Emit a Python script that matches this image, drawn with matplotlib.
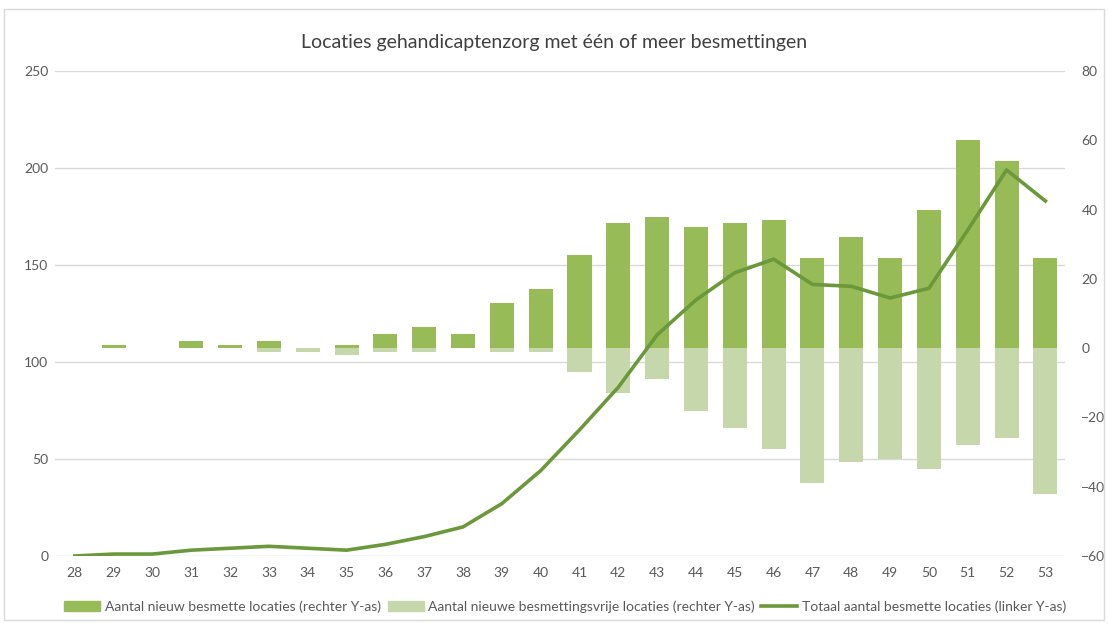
import numpy as np
import matplotlib.pyplot as plt
from matplotlib.patches import Rectangle, Patch
from matplotlib.lines import Line2D

plt.rcParams['font.family'] = ['Lato', 'DejaVu Sans']

weeks = list(range(28, 54))
# nieuw besmette locaties (rechter Y-as)
new_infected = [0, 1, 0, 2, 1, 2, 0, 1, 4, 6, 4, 13, 17, 27, 36, 38,
                35, 36, 37, 26, 32, 26, 40, 60, 54, 26]
# nieuwe besmettingsvrije locaties (rechter Y-as)
new_free = [0, 0, 0, 0, 0, -1, -1, -2, -1, -1, 0, -1, -1, -7, -13, -9,
            -18, -23, -29, -39, -33, -32, -35, -28, -26, -42]
# totaal aantal besmette locaties (linker Y-as)
total = [0, 1, 1, 3, 4, 5, 4, 3, 6, 10, 15, 27, 44, 65, 87, 114,
         132, 146, 153, 140, 139, 133, 138, 168, 199, 183]

dark = '#97bb57'
light = '#c6d8ab'
line_col = '#6a983a'
txt = '#595959'

fig = plt.figure(figsize=(11.08, 6.25), dpi=100)
ax = fig.add_axes([0.05, 0.1104, 0.911, 0.776])
ax2 = ax.twinx()

# bars on the right axis
ax.yaxis.tick_right()
ax.bar(weeks, new_infected, width=0.62, color=dark, zorder=2)
ax.bar(weeks, new_free, width=0.62, color=light, zorder=2)
ax.set_ylim(-60, 80)
ax.set_yticks(range(-60, 81, 20))
ax.set_xlim(27.5, 53.5)
ax.set_xticks(weeks)

# gridlines follow the left axis
left_ticks = range(0, 251, 50)
for v in left_ticks:
    ax.axhline(-60 + v * 140 / 250, color='#d9d9d9', lw=1, zorder=0)

# line on the left axis
ax2.yaxis.tick_left()
ax2.plot(weeks, total, color=line_col, lw=2.6, zorder=3)
ax2.set_ylim(0, 250)
ax2.set_yticks(list(left_ticks))

for a in (ax, ax2):
    for s in a.spines.values():
        s.set_visible(False)
    a.tick_params(length=0, labelsize=10, colors=txt)
ax.tick_params(axis='y', pad=12)
ax2.tick_params(axis='y', pad=5)
ax.tick_params(axis='x', pad=8)

fig.suptitle('Locaties gehandicaptenzorg met één of meer besmettingen',
             y=0.945, fontsize=14, color='#404040')

handles = [Patch(color=dark), Patch(color=light),
           Line2D([], [], color=line_col, lw=2.6)]
labels = ['Aantal nieuw besmette locaties (rechter Y-as)',
          'Aantal nieuwe besmettingsvrije locaties (rechter Y-as)',
          'Totaal aantal besmette locaties (linker Y-as)']
fig.legend(handles, labels, loc='center', bbox_to_anchor=(0.51, 0.03), ncol=3,
           frameon=False, fontsize=10, labelcolor=txt, handlelength=2.6,
           handletextpad=0.3, columnspacing=0.5)

fig.patches.append(Rectangle((0.004, 0.008), 0.992, 0.978, transform=fig.transFigure,
                             fill=False, edgecolor='#d9d9d9', lw=1))

fig.savefig('out.png', dpi=100)
